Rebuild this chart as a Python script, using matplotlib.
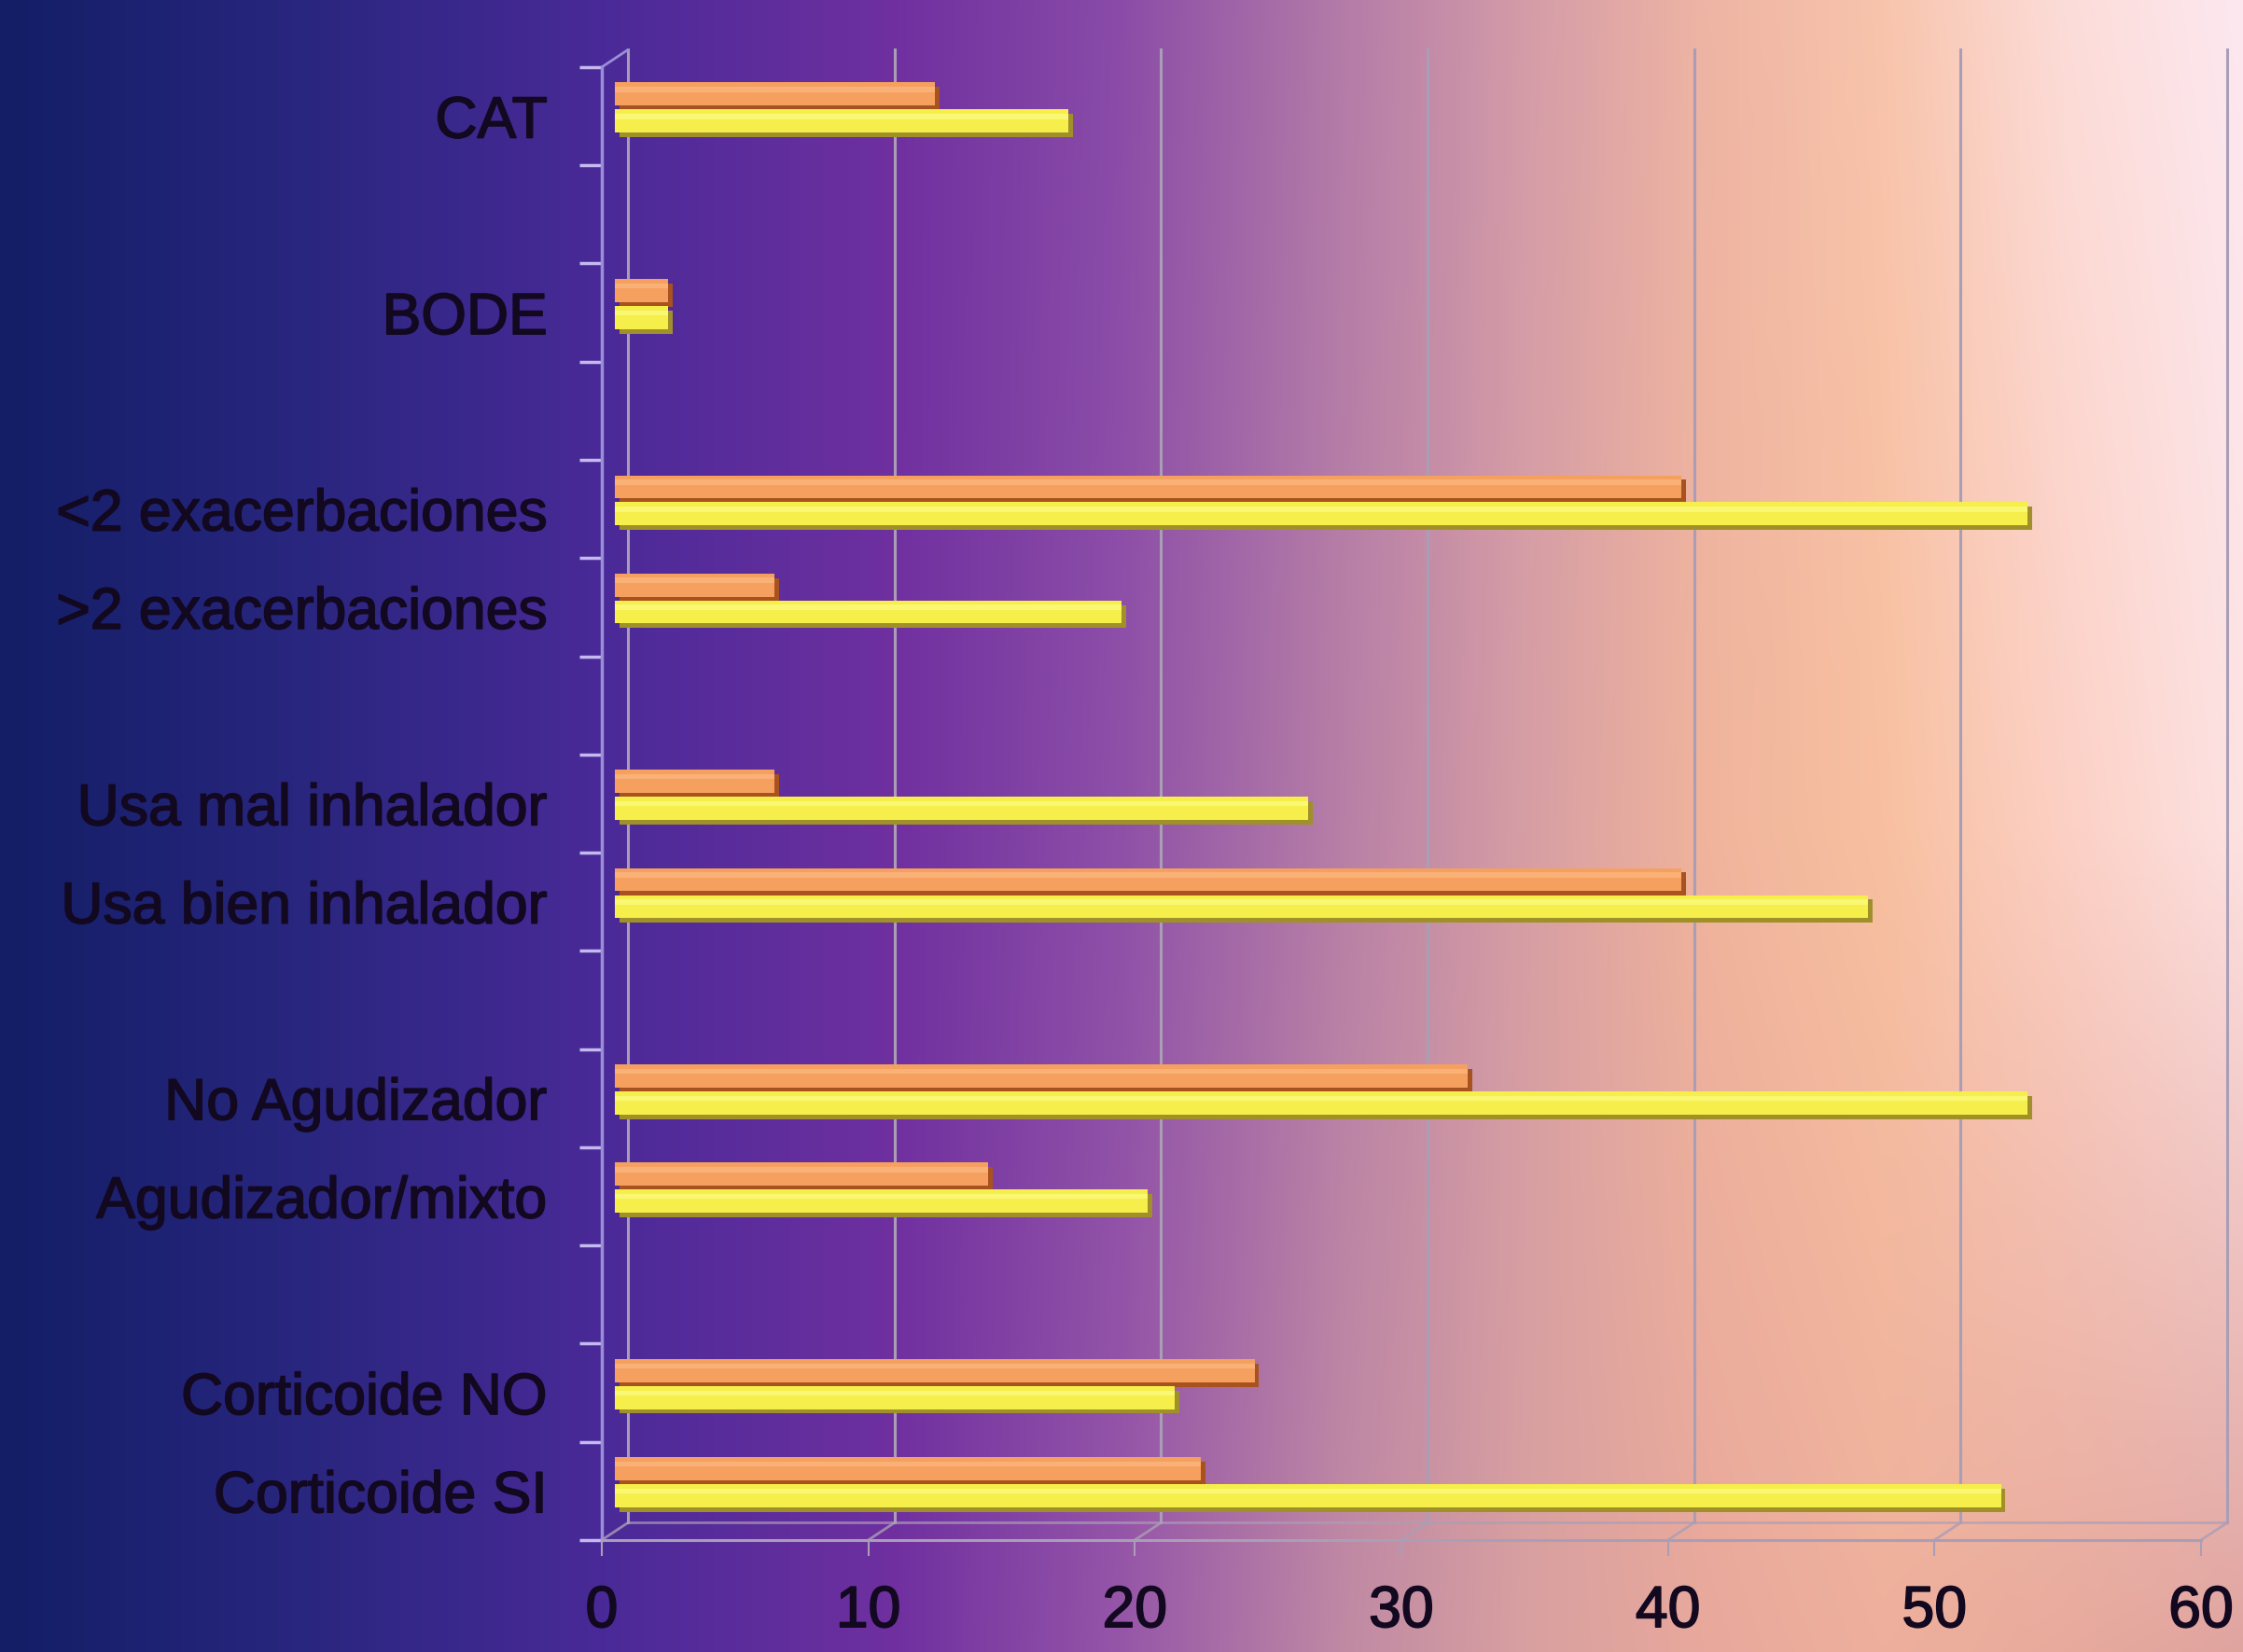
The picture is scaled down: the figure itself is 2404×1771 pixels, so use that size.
import numpy as np
import matplotlib.pyplot as plt
from matplotlib import transforms
from matplotlib.colors import to_rgb
from matplotlib.patches import ConnectionPatch
from matplotlib.patheffects import SimplePatchShadow, Normal, withStroke

plt.rcParams['font.family'] = ['Liberation Sans', 'DejaVu Sans']

# categorias del grafico (las vacias separan los grupos)
categorias = ['CAT', '', 'BODE', '', '<2 exacerbaciones', '>2 exacerbaciones', '',
              'Usa mal inhalador', 'Usa bien inhalador', '', 'No Agudizador',
              'Agudizador/mixto', '', 'Corticoide NO', 'Corticoide SI']
serie_naranja = [12, np.nan, 2, np.nan, 40, 6, np.nan, 6, 40, np.nan, 32, 14, np.nan, 24, 22]
serie_amarilla = [17, np.nan, 2, np.nan, 53, 19, np.nan, 26, 47, np.nan, 53, 20, np.nan, 21, 52]
ticks_x = [0, 10, 20, 30, 40, 50, 60]

# degradado del fondo: filas arriba / centro / abajo
fondo_arriba = [(0.00, '#131e66'), (0.13, '#28267e'), (0.27, '#4a2a98'), (0.40, '#7030a0'),
                (0.50, '#8a4ca8'), (0.60, '#b47ca8'), (0.68, '#d49ca8'), (0.76, '#eeb4a4'),
                (0.84, '#f8c4ac'), (0.92, '#fcdcd8'), (1.00, '#fde8f0')]
fondo_centro = [(0.00, '#131e66'), (0.13, '#28267e'), (0.27, '#4a2a98'), (0.40, '#7030a0'),
                (0.50, '#8e50a8'), (0.60, '#b880a6'), (0.68, '#d69ea4'), (0.76, '#f0b49c'),
                (0.84, '#f8c0a0'), (0.92, '#fcd0c4'), (1.00, '#fde2e2')]
fondo_abajo = [(0.00, '#131e66'), (0.13, '#28267e'), (0.27, '#4a2a98'), (0.40, '#7030a0'),
               (0.50, '#9656a8'), (0.60, '#c08aa4'), (0.68, '#d8a0a0'), (0.76, '#e8a89c'),
               (0.84, '#eeb09c'), (0.92, '#e8aa9c'), (1.00, '#e0a4a0')]


def fila_degradado(paradas, xs):
    pos = [p for p, _ in paradas]
    cols = np.array([to_rgb(c) for _, c in paradas])
    return np.stack([np.interp(xs, pos, cols[:, k]) for k in range(3)], axis=-1)


def imagen_fondo(ancho=800, alto=600):
    xs = np.linspace(0, 1, ancho)
    f0 = fila_degradado(fondo_arriba, xs)
    f1 = fila_degradado(fondo_centro, xs)
    f2 = fila_degradado(fondo_abajo, xs)
    ys = np.linspace(0, 1, alto)[:, None, None]
    sup = f0 + (f1 - f0) * np.clip(ys / 0.5, 0, 1)
    inf = f1 + (f2 - f1) * np.clip((ys - 0.5) / 0.5, 0, 1)
    return np.where(ys < 0.5, sup, inf)


fig = plt.figure(figsize=(24.04, 17.71), dpi=100)

bg = fig.add_axes([0, 0, 1, 1], zorder=-1)
bg.imshow(imagen_fondo(), aspect='auto', extent=[0, 1, 0, 1], origin='upper')
bg.axis('off')

ax = fig.add_axes([0.2683, 0.0678, 0.713, 0.8916])
ax.patch.set_alpha(0)
ax.set_xlim(0, 60)
ax.set_ylim(len(categorias) - 0.5, -0.5)

# desplazamientos de la perspectiva (pared del fondo y plano de las barras)
off_fondo = transforms.ScaledTranslation(0.28, 0.185, fig.dpi_scale_trans)
off_barras = transforms.ScaledTranslation(0.14, 0.09, fig.dpi_scale_trans)
t_fondo = ax.transData + off_fondo
t_barras = ax.transData + off_barras

color_rejilla = '#aa9eb6'
color_eje = '#9a8ed6'
y_base = len(categorias) - 0.5

# rejilla en la pared del fondo
for t in ticks_x:
    ax.plot([t, t], [y_base, -0.5], transform=t_fondo, color=color_rejilla,
            lw=2.2, zorder=1, clip_on=False)
# borde trasero del suelo
ax.plot([0, 60], [y_base, y_base], transform=t_fondo, color=color_rejilla,
        lw=2, alpha=0.7, zorder=1, clip_on=False)
# diagonales del suelo y esquina superior
for t in ticks_x:
    con = ConnectionPatch(xyA=(t, y_base), coordsA=ax.transData,
                          xyB=(t, y_base), coordsB=t_fondo,
                          arrowstyle='-', color=color_rejilla, lw=2, alpha=0.8,
                          shrinkA=0, shrinkB=0, zorder=1)
    ax.add_artist(con)
con = ConnectionPatch(xyA=(0, -0.5), coordsA=ax.transData, xyB=(0, -0.5), coordsB=t_fondo,
                      arrowstyle='-', color=color_eje, lw=2, shrinkA=0, shrinkB=0, zorder=1)
ax.add_artist(con)

# barras con efecto de relieve
y = np.arange(len(categorias))
alto = 0.235
series = [
    (serie_naranja, -0.14, '#f6a060', '#ffc08a', '#a8521f'),
    (serie_amarilla, 0.135, '#f6ee4a', '#ffff96', '#a0902a'),
]
for valores, desp, cara, brillo, sombra in series:
    barras = ax.barh(y + desp, valores, height=alto, color=cara, zorder=3)
    for p in barras:
        p.set_transform(t_barras)
        p.set_path_effects([SimplePatchShadow(offset=(3.5, -3.5), shadow_rgbFace=sombra, alpha=1),
                            Normal()])
    luces = ax.barh(y + desp - alto * 0.2, valores, height=alto * 0.22, color=brillo,
                    alpha=0.55, zorder=4, lw=0)
    for p in luces:
        p.set_transform(t_barras)

# ejes
for lado in ['top', 'right']:
    ax.spines[lado].set_visible(False)
ax.spines['left'].set_color(color_eje)
ax.spines['left'].set_linewidth(2.5)
ax.spines['bottom'].set_color(color_rejilla)
ax.spines['bottom'].set_linewidth(2.2)

ax.set_yticks(y)
ax.set_yticklabels(categorias)
ax.set_yticks(np.arange(-0.5, len(categorias)), minor=True)
ax.tick_params(axis='y', which='major', length=0, pad=42, labelsize=45, labelcolor='#120820')
ax.tick_params(axis='y', which='minor', length=17, width=2.5, color='#c4baf0', direction='out')

ax.set_xticks(ticks_x)
ax.tick_params(axis='x', length=12, width=1.5, color=color_rejilla, pad=22,
               labelsize=45, labelcolor='#120820')

# trazo ligero para dar cuerpo al texto
for etiqueta in ax.get_yticklabels() + ax.get_xticklabels():
    etiqueta.set_path_effects([withStroke(linewidth=1.2, foreground='#120820')])

fig.savefig('out.png', dpi=100)
